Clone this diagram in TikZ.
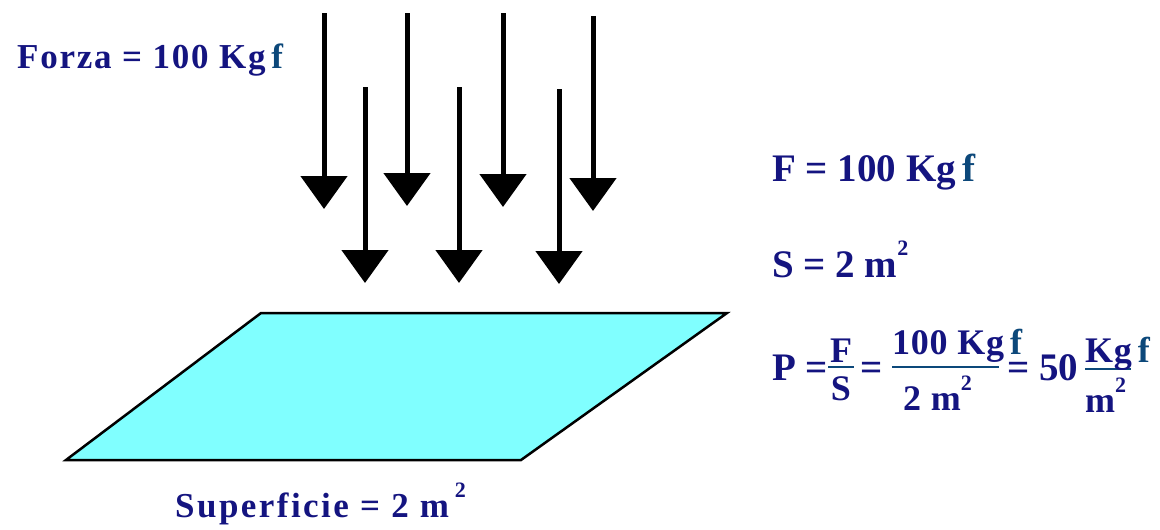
\documentclass[tikz,border=0pt]{standalone}
\usepackage{fontspec}
\setmainfont{Liberation Serif}
\usetikzlibrary{arrows.meta}
\definecolor{navy}{RGB}{20,20,128}
\definecolor{fblue}{RGB}{12,72,122}
\definecolor{plate}{RGB}{128,255,255}
\tikzset{
  force/.style={line width=5pt,-{Triangle[width=46pt,length=33pt]}},
  txt/.style={anchor=base west,inner sep=0pt,text=navy,font=\bfseries\fontsize{35}{35}\selectfont\addfontfeatures{LetterSpace=5}},
  big/.style={anchor=base west,inner sep=0pt,text=navy,font=\bfseries\fontsize{39}{39}\selectfont},
  small/.style={anchor=base,inner sep=0pt,text=navy,font=\bfseries\fontsize{36}{36}\selectfont\addfontfeatures{LetterSpace=2}},
  fbar/.style={draw=fblue,line width=2.5pt},
}
\newcommand{\ff}{\,\textcolor{fblue}{f}}
\newcommand{\sq}{\raisebox{0.55em}{\fontsize{22}{22}\selectfont 2}}
\begin{document}
\begin{tikzpicture}[x=1pt,y=-1pt]
\useasboundingbox (0,0) rectangle (1160,530);
% plate
\coordinate (p1) at (261,313);
\coordinate (p2) at (727,313);
\coordinate (p3) at (521,460);
\coordinate (p4) at (66,460);
\draw[fill=plate,line width=2.5pt,line join=miter] (p1) -- (p2) -- (p3) -- (p4) -- cycle;
% arrows
\foreach \n/\x/\t/\b in {1/324/13/209,2/365/87/283,3/407/13/206,4/459/87/283,5/503/13/207,6/559/89/284,7/593/16/211}{
  \coordinate (a\n s) at (\x,\t);
  \coordinate (a\n e) at (\x,\b);
  \draw[force] (a\n s) -- (a\n e);
}
% texts
\node[txt] (forza) at (17,68) {Forza = 100 Kg\ff};
\node[txt] (sup) at (175,517) {\addfontfeatures{LetterSpace=7}Superficie = 2 m\,\sq};
\node[big] (feq) at (772,181) {F = 100 Kg\ff};
\node[big] (seq) at (772,277) {S = 2 m\sq};
% formula
\node[big] (peq) at (772,380) {P =};
\coordinate (b1l) at (828,367);
\coordinate (b1r) at (854,367);
\draw[fbar] (b1l) -- (b1r);
\node[small] (fnum) at (841,362) {F};
\node[small] (sden) at (841,400) {S};
\node[big] (eq2) at (860,380) {=};
\coordinate (b2l) at (892,367);
\coordinate (b2r) at (999,367);
\draw[fbar] (b2l) -- (b2r);
\node[small,anchor=base west] (num2) at (892,354) {100 Kg\ff};
\node[small,anchor=base west] (den2) at (903,410) {2 m\sq};
\node[big] (eq3) at (1007,380) {= 50};
\coordinate (b3l) at (1085,369);
\coordinate (b3r) at (1131,369);
\draw[fbar] (b3l) -- (b3r);
\node[small,anchor=base west] (num3) at (1085,362) {Kg\ff};
\node[small,anchor=base west] (den3) at (1085,412) {m\sq};
\end{tikzpicture}
\end{document}
